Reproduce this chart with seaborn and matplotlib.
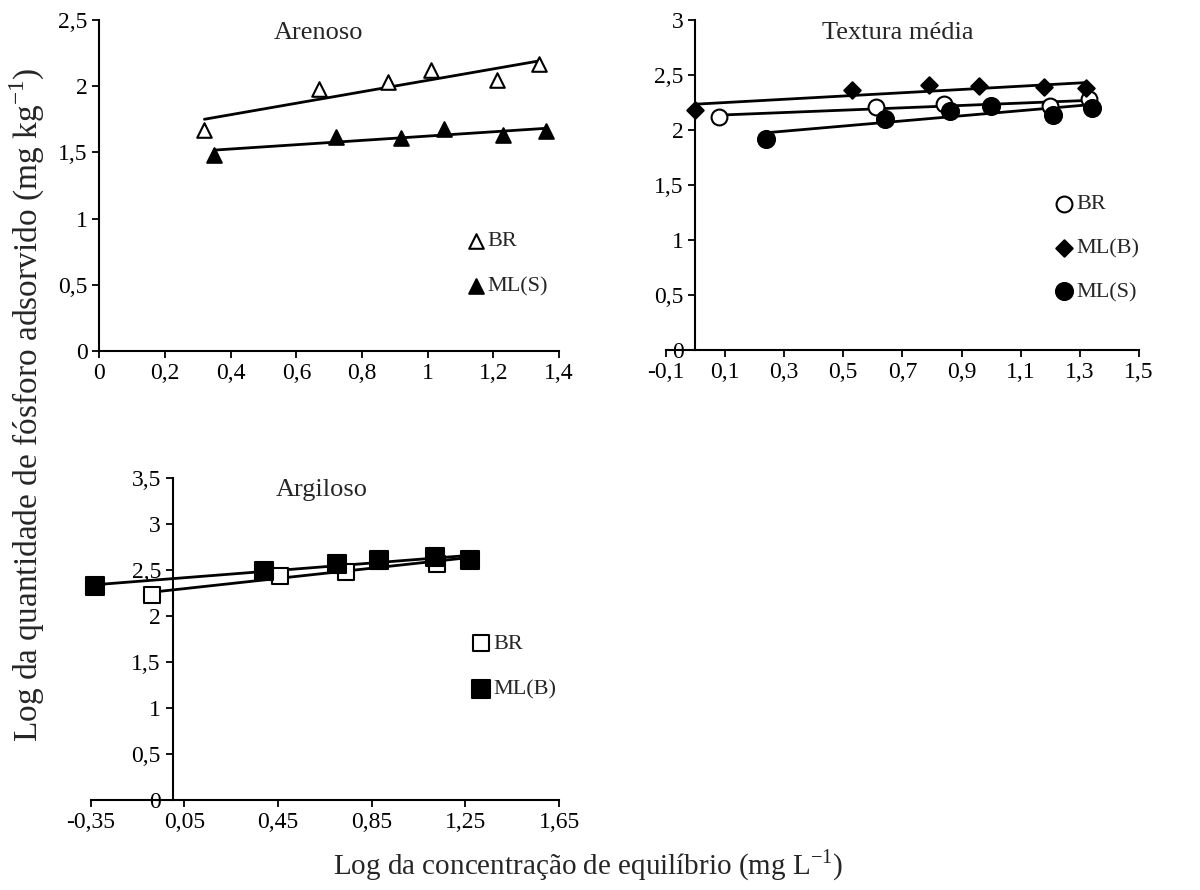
import numpy as np
import pandas as pd
import matplotlib
matplotlib.use("Agg")
import matplotlib.pyplot as plt
import seaborn as sns
from matplotlib.ticker import FuncFormatter

# Arenoso
are_br_x = [0.32, 0.67, 0.88, 1.01, 1.21, 1.34]
are_br_y = [1.67, 1.98, 2.03, 2.12, 2.05, 2.17]
are_mls_x = [0.35, 0.72, 0.92, 1.05, 1.23, 1.36]
are_mls_y = [1.48, 1.62, 1.61, 1.68, 1.63, 1.66]

# Textura média
med_br_x = [0.08, 0.61, 0.84, 1.20, 1.33]
med_br_y = [2.12, 2.21, 2.24, 2.22, 2.28]
med_mlb_x = [0.00, 0.53, 0.79, 0.96, 1.18, 1.32]
med_mlb_y = [2.18, 2.36, 2.41, 2.40, 2.39, 2.38]
med_mls_x = [0.24, 0.64, 0.86, 1.00, 1.21, 1.34]
med_mls_y = [1.92, 2.10, 2.17, 2.22, 2.14, 2.20]

# Argiloso
arg_br_x = [-0.09, 0.46, 0.74, 0.88, 1.13, 1.27]
arg_br_y = [2.23, 2.43, 2.48, 2.60, 2.56, 2.61]
arg_mlb_x = [-0.33, 0.39, 0.70, 0.88, 1.12, 1.27]
arg_mlb_y = [2.32, 2.49, 2.56, 2.61, 2.64, 2.61]

sns.set_style("ticks")
plt.rcParams["font.family"] = ["Liberation Serif", "DejaVu Serif"]
plt.rcParams["axes.linewidth"] = 1.5
plt.rcParams["xtick.major.width"] = 1.3
plt.rcParams["ytick.major.width"] = 1.3
plt.rcParams["xtick.major.size"] = 5
plt.rcParams["ytick.major.size"] = 5
plt.rcParams["xtick.labelsize"] = 17
plt.rcParams["ytick.labelsize"] = 17
plt.rcParams["xtick.color"] = "black"
plt.rcParams["ytick.color"] = "black"

fmt = FuncFormatter(lambda v, p: ("%g" % round(v, 2)).replace(".", ","))


def serie(ax, x, y, marker, filled, size, label):
    df = pd.DataFrame({"x": x, "y": y})
    face = "black" if filled else "white"
    sns.regplot(data=df, x="x", y="y", ax=ax, ci=None, color="black",
                marker=marker, label=label,
                scatter_kws={"s": size, "facecolors": face, "edgecolors": "black",
                             "linewidths": 1.5, "alpha": 1, "zorder": 3, "clip_on": False},
                line_kws={"lw": 2.0, "zorder": 2})


def base(ax, xlim, xticks, ylim, yticks, cross0):
    ax.set_xlim(*xlim)
    ax.set_ylim(*ylim)
    ax.set_xticks(xticks)
    ax.set_yticks(yticks)
    ax.xaxis.set_major_formatter(fmt)
    ax.yaxis.set_major_formatter(fmt)
    ax.set_xlabel("")
    ax.set_ylabel("")
    ax.spines["top"].set_visible(False)
    ax.spines["right"].set_visible(False)
    ax.spines["left"].set_color("black")
    ax.spines["bottom"].set_color("black")
    if cross0:
        ax.spines["left"].set_position(("data", 0))
    ax.set_facecolor("white")


fig = plt.figure(figsize=(12, 8.9), dpi=100)
fig.patch.set_facecolor("white")

ax1 = fig.add_axes([0.0828, 0.6056, 0.3830, 0.3719])
serie(ax1, are_br_x, are_br_y, "^", False, 110, "BR")
serie(ax1, are_mls_x, are_mls_y, "^", True, 110, "ML(S)")
base(ax1, (0, 1.4), np.arange(0, 1.41, 0.2), (0, 2.5), np.arange(0, 2.51, 0.5), False)
ax1.text(0.476, 0.995, "Arenoso", transform=ax1.transAxes, ha="center", va="top", fontsize=19)
ax1.legend(loc="upper left", bbox_to_anchor=(0.775, 0.39), frameon=False, fontsize=16,
           handletextpad=0.05, handlelength=1.0, labelspacing=1.1, borderaxespad=0)

ax2 = fig.add_axes([0.5548, 0.6067, 0.3944, 0.3708])
serie(ax2, med_br_x, med_br_y, "o", False, 130, "BR")
serie(ax2, med_mlb_x, med_mlb_y, "D", True, 70, "ML(B)")
serie(ax2, med_mls_x, med_mls_y, "o", True, 150, "ML(S)")
base(ax2, (-0.1, 1.5), np.arange(-0.1, 1.51, 0.2), (0, 3), np.arange(0, 3.01, 0.5), True)
ax2.text(0.491, 0.995, "Textura média", transform=ax2.transAxes, ha="center", va="top", fontsize=19)
ax2.legend(loc="upper left", bbox_to_anchor=(0.80, 0.50), frameon=False, fontsize=16,
           handletextpad=0.05, handlelength=1.0, labelspacing=1.05, borderaxespad=0)

ax3 = fig.add_axes([0.0756, 0.1011, 0.3903, 0.3621])
serie(ax3, arg_br_x, arg_br_y, "s", False, 130, "BR")
serie(ax3, arg_mlb_x, arg_mlb_y, "s", True, 150, "ML(B)")
base(ax3, (-0.35, 1.65), np.arange(-0.35, 1.66, 0.4), (0, 3.5), np.arange(0, 3.51, 0.5), True)
ax3.text(0.493, 0.995, "Argiloso", transform=ax3.transAxes, ha="center", va="top", fontsize=19)
ax3.legend(loc="upper left", bbox_to_anchor=(0.79, 0.545), frameon=False, fontsize=16,
           handletextpad=0.05, handlelength=1.0, labelspacing=1.15, borderaxespad=0)

fig.text(0.023, 0.545, "Log da quantidade de fósforo adsorvido (mg kg$^{\\mathregular{-1}}$)",
         rotation=90, ha="center", va="center", fontsize=24)
fig.text(0.49, 0.028, "Log da concentração de equilíbrio (mg L$^{\\mathregular{-1}}$)",
         ha="center", va="center", fontsize=21)

fig.savefig("out.png", dpi=100, facecolor="white")
